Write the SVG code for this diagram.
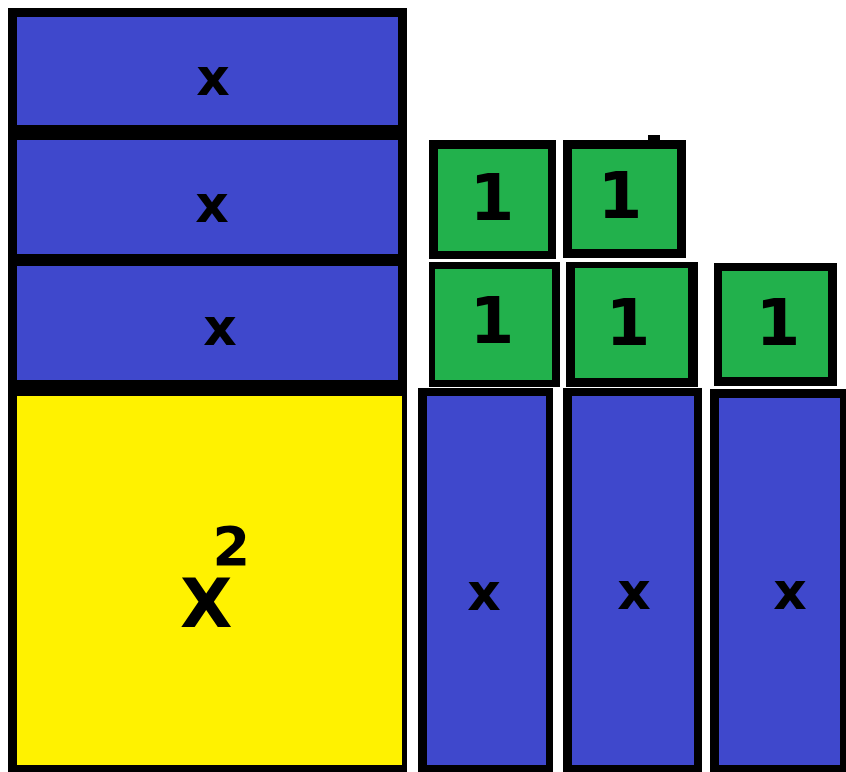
<svg xmlns="http://www.w3.org/2000/svg" width="846" height="772" viewBox="0 0 846 772">
<style>
.k{fill:#000}
.b{fill:#3f48cc}
.g{fill:#22b14c}
.y{fill:#fff200}
.t{font-family:"DejaVu Sans","Liberation Sans",sans-serif;font-weight:bold;fill:#000;text-anchor:middle}
.tx{font-size:52px}
.t1{font-size:64px}
</style>
<rect width="846" height="772" fill="#fff"/>
<g id="left-column">
<rect class="k" x="8" y="8" width="399" height="764"/>
</g>
<g id="x-tile-1">
<rect class="b" x="17" y="17" width="381" height="108"/>
<text class="t tx" x="213" y="95">x</text>
</g>
<g id="x-tile-2">
<rect class="b" x="17" y="140" width="381" height="114"/>
<text class="t tx" x="212" y="222">x</text>
</g>
<g id="x-tile-3">
<rect class="b" x="17" y="266" width="381" height="114"/>
<text class="t tx" x="220" y="345">x</text>
</g>
<g id="x2-tile">
<rect class="y" x="17" y="396" width="385" height="369"/>
<text class="t" style="font-size:68px;text-anchor:start" x="180" y="627">X<tspan style="font-size:54px" dx="-20" dy="-62">2</tspan></text>
</g>
<g id="unit-a">
<rect class="k" x="429" y="140" width="127" height="119"/>
<rect class="g" x="438" y="149" width="110" height="102"/>
<text class="t t1" x="492" y="220">1</text>
</g>
<g id="unit-b">
<rect class="k" x="563" y="140" width="123" height="118"/>
<rect class="k" x="648" y="135" width="12" height="6"/>
<rect class="g" x="572" y="149" width="105" height="100"/>
<text class="t t1" x="620" y="218">1</text>
</g>
<g id="unit-c">
<rect class="k" x="429" y="262" width="131" height="125"/>
<rect class="g" x="435" y="269" width="117" height="111"/>
<text class="t t1" x="492" y="343">1</text>
</g>
<g id="unit-d">
<rect class="k" x="566" y="262" width="132" height="125"/>
<rect class="g" x="575" y="268" width="113" height="110"/>
<text class="t t1" x="628" y="345">1</text>
</g>
<g id="unit-e">
<rect class="k" x="714" y="263" width="123" height="123"/>
<rect class="g" x="722" y="271" width="106" height="106"/>
<text class="t t1" x="778" y="345">1</text>
</g>
<g id="x-tile-4">
<rect class="k" x="418" y="388" width="135" height="384"/>
<rect class="b" x="427" y="396" width="119" height="369"/>
<text class="t tx" x="484" y="610">x</text>
</g>
<g id="x-tile-5">
<rect class="k" x="563" y="388" width="139" height="384"/>
<rect class="b" x="572" y="396" width="122" height="369"/>
<text class="t tx" x="634" y="609">x</text>
</g>
<g id="x-tile-6">
<rect class="k" x="710" y="389" width="136" height="383"/>
<rect class="b" x="719" y="398" width="121" height="367"/>
<text class="t tx" x="790" y="609">x</text>
</g>
<g id="connectors"></g>
</svg>
